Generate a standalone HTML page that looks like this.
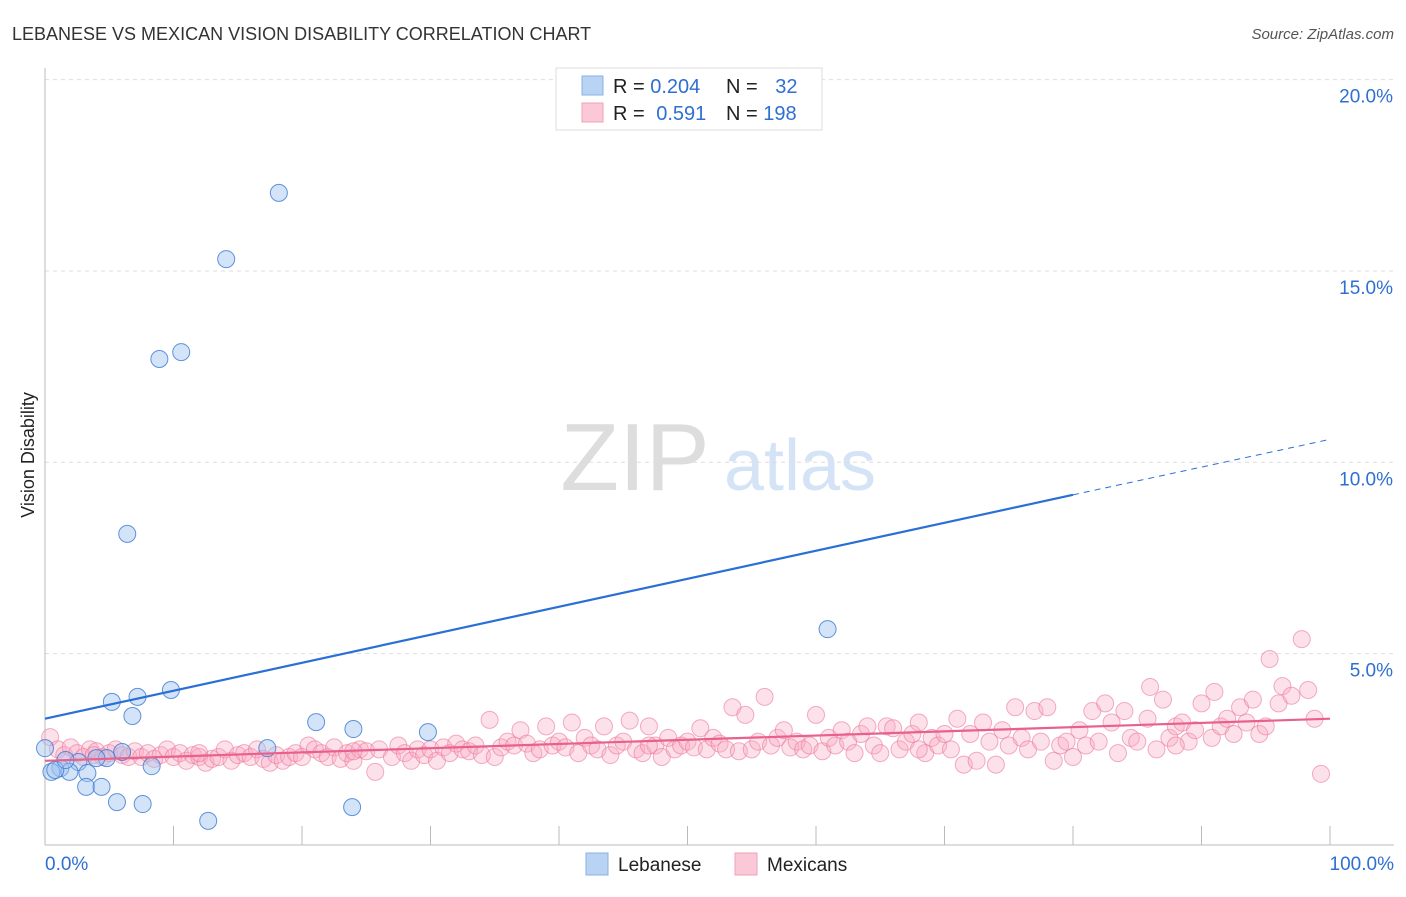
<!DOCTYPE html>
<html><head><meta charset="utf-8"><style>
body{margin:0;background:#fff;font-family:"Liberation Sans",sans-serif}
svg text{font-family:"Liberation Sans",sans-serif}
</style></head><body>
<svg id="c" width="1406" height="892" xmlns="http://www.w3.org/2000/svg">
<text x="12" y="40" font-size="18" fill="#333">LEBANESE VS MEXICAN VISION DISABILITY CORRELATION CHART</text>
<text x="1394" y="39" font-size="15" fill="#555" font-style="italic" text-anchor="end">Source: ZipAtlas.com</text>
<text x="34" y="455" font-size="18" fill="#222" transform="rotate(-90 34 455)" text-anchor="middle">Vision Disability</text>
<g><text x="635" y="490" font-size="96" fill="#ddd" font-family="Liberation Serif" text-anchor="middle">ZIP</text><text x="800" y="490" font-size="72" fill="#d4e3f5" text-anchor="middle">atlas</text></g>
<g id="grid"></g><g id="axes"></g><g id="lines"></g><g id="pts"></g>
<g>
<rect x="556" y="68" width="266" height="62" fill="#fff" stroke="#ddd"/>
<rect x="582" y="76" width="21" height="19" fill="#b9d3f5" stroke="#8ab0e6"/>
<rect x="582" y="103" width="21" height="19" fill="#fbc8d8" stroke="#f0a0b8"/>
<text x="613" y="93" font-size="20" fill="#222">R = <tspan fill="#2f6fd1">0.204</tspan></text>
<text x="726" y="93" font-size="20" fill="#222">N = <tspan fill="#2f6fd1" dx="12">32</tspan></text>
<text x="613" y="120" font-size="20" fill="#222">R = <tspan fill="#2f6fd1" dx="6">0.591</tspan></text>
<text x="726" y="120" font-size="20" fill="#222">N = <tspan fill="#2f6fd1">198</tspan></text>
</g>
<g>
<rect x="586" y="853" width="22" height="22" fill="#b9d3f5" stroke="#8ab0e6"/><text x="618" y="871" font-size="19" fill="#222">Lebanese</text>
<rect x="735" y="853" width="22" height="22" fill="#fbc8d8" stroke="#f0a0b8"/><text x="767" y="871" font-size="19" fill="#222">Mexicans</text>
</g>
</svg>
<script>
const yTicks=[5,10,15,20];
const yTickLabels=["5.0%","10.0%","15.0%","20.0%"];
const xTickLabels=["0.0%","100.0%"];
const blueX=[18.2,14.1,8.9,10.6,6.4,60.9,5.2,7.2,9.8,6.8,21.1,24.0,29.8,17.3,6.0,4.8,8.3,4.0,2.6,1.2,0.5,1.9,3.3,3.2,4.4,5.6,7.6,23.9,12.7,0.0,0.8,1.6];
const blueY=[17.04,15.31,12.70,12.88,8.13,5.64,3.74,3.87,4.05,3.37,3.21,3.03,2.95,2.53,2.43,2.27,2.06,2.27,2.17,2.01,1.91,1.91,1.88,1.52,1.52,1.12,1.07,0.99,0.63,2.53,1.96,2.22];
const pinkX=[0.4,1,1.5,2,2.5,3,3.5,4,4.5,5,5.5,6,6.5,7,7.5,8,8.5,9,9.5,10,10.5,11,11.5,12,12.5,13,13.5,14,14.5,15,15.5,16,16.5,17,17.5,18,18.5,19,19.5,20,20.5,21,21.5,22,22.5,23,23.5,24,24.5,25,25.7,26,27,27.5,28,28.5,29,29.5,30,30.5,31,31.5,32,32.5,33,33.5,34,34.6,35,35.5,36,36.5,37,37.5,38,38.5,39,39.5,40,40.5,41,41.5,42,42.5,43,43.5,44,44.5,45,45.5,46,46.5,47,47.5,48,48.5,49,49.5,50,50.5,51,51.5,52,52.5,53,53.5,54,54.5,55,55.5,56,56.5,57,57.5,58,58.5,59,59.5,60,60.5,61,61.5,62,62.5,63,63.5,64,64.5,65,65.5,66,66.5,67,67.5,68,68.5,69,69.5,70,70.5,71,71.5,72,72.5,73,73.5,74,74.5,75,75.5,76,76.5,77,77.5,78,78.5,79,79.5,80,80.5,81,81.5,82,82.5,83,83.5,84,84.5,85,85.8,86,86.5,87,87.5,88,88.5,89,89.5,90,90.8,91,91.5,92,92.5,93,93.5,94,94.5,95,95.3,96,96.3,97,97.8,98.3,98.8,99.3,3.8,12,24,47,68,88];
const pinkY=[2.82,2.5,2.35,2.55,2.4,2.3,2.5,2.45,2.3,2.4,2.5,2.35,2.3,2.45,2.3,2.4,2.25,2.35,2.5,2.3,2.4,2.2,2.35,2.3,2.15,2.25,2.3,2.5,2.2,2.35,2.4,2.3,2.5,2.25,2.15,2.35,2.2,2.3,2.4,2.3,2.6,2.5,2.4,2.3,2.55,2.25,2.4,2.2,2.5,2.45,1.91,2.5,2.3,2.6,2.4,2.2,2.5,2.35,2.5,2.2,2.55,2.4,2.65,2.5,2.45,2.6,2.35,3.27,2.3,2.55,2.7,2.6,3.0,2.65,2.4,2.5,3.1,2.6,2.7,2.55,3.2,2.4,2.8,2.6,2.5,3.1,2.35,2.6,2.7,3.25,2.5,2.4,3.1,2.6,2.3,2.8,2.5,2.6,2.7,2.55,3.05,2.5,2.8,2.65,2.5,3.6,2.45,3.4,2.5,2.7,3.87,2.6,2.8,3.0,2.55,2.7,2.5,2.6,3.4,2.45,2.8,2.6,3.0,2.7,2.4,2.9,3.1,2.6,2.4,3.1,3.05,2.5,2.7,2.9,3.2,2.4,2.8,2.6,2.9,2.5,3.3,2.1,2.9,2.2,3.2,2.7,2.1,3.0,2.6,3.6,2.8,2.5,3.5,2.7,3.6,2.2,2.6,2.7,2.3,3.0,2.6,3.5,2.7,3.7,3.2,2.4,3.5,2.8,2.7,3.3,4.13,2.5,3.8,2.8,3.1,3.2,2.7,3.0,3.7,2.8,4.0,3.1,3.3,2.9,3.6,3.2,3.8,2.9,3.1,4.86,3.7,4.15,3.9,5.38,4.05,3.3,1.86,2.35,2.4,2.45,2.6,2.5,2.6];
const blueLineX=[0,80],blueLineY=[3.3,9.15],blueDashX=[80,100],blueDashY=[9.15,10.6];
const pinkLineX=[0,100],pinkLineY=[2.2,3.3];
const X=v=>45+v*12.85, Y=v=>845-v*38.27;
const NS="http://www.w3.org/2000/svg";
function mk(tag,attrs,parent){const e=document.createElementNS(NS,tag);for(const k in attrs)e.setAttribute(k,attrs[k]);document.getElementById(parent).appendChild(e);return e;}
yTicks.forEach((t,i)=>{
 const g=mk('line',{x1:45,x2:1394,y1:Y(t),y2:Y(t),stroke:'#ddd','stroke-dasharray':'4 4'},'grid');
 
 
 const l=mk('text',{x:1393,y:Y(t)+23,'font-size':19,fill:'#2f6fd1','text-anchor':'end'},'grid');l.textContent=yTickLabels[i];
 
 
});
const a1=mk('line',{x1:45,x2:45,y1:68,y2:845,stroke:'#bbb'},'axes');


const a2=mk('line',{x1:45,x2:1394,y1:845,y2:845,stroke:'#bbb'},'axes');


for(let i=1;i<=10;i++){const t=mk('line',{x1:X(i*10),x2:X(i*10),y1:826,y2:845,stroke:'#bbb'},'axes');
 
 }
[[0,'start',45],[100,'end',1394]].forEach(([v,anc,px],i)=>{const t=mk('text',{x:px,y:870,'font-size':19,fill:'#2f6fd1','text-anchor':anc},'axes');t.textContent=xTickLabels[i];
 
 });
for(let i=0;i<pinkX.length;i++){const c=mk('circle',{cx:X(pinkX[i]),cy:Y(pinkY[i]),r:8.5,fill:'rgba(248,170,195,0.35)',stroke:'rgba(235,120,155,0.6)','stroke-width':1},'pts');
 
 }
for(let i=0;i<blueX.length;i++){const c=mk('circle',{cx:X(blueX[i]),cy:Y(blueY[i]),r:8.5,fill:'rgba(160,195,240,0.45)',stroke:'rgba(60,120,210,0.8)','stroke-width':1},'pts');
 
 }
const bl=mk('line',{x1:X(blueLineX[0]),y1:Y(blueLineY[0]),x2:X(blueLineX[1]),y2:Y(blueLineY[1]),stroke:'#2a6fd6','stroke-width':2.2},'lines');


const bd=mk('line',{x1:X(blueDashX[0]),y1:Y(blueDashY[0]),x2:X(blueDashX[1]),y2:Y(blueDashY[1]),stroke:'#2a6fd6','stroke-width':1,'stroke-dasharray':'6 5'},'lines');


const pl=mk('line',{x1:X(pinkLineX[0]),y1:Y(pinkLineY[0]),x2:X(pinkLineX[1]),y2:Y(pinkLineY[1]),stroke:'#e8608c','stroke-width':2.2},'lines');


document.getElementById('c').appendChild(document.getElementById('lines'));
</script>
</body></html>
